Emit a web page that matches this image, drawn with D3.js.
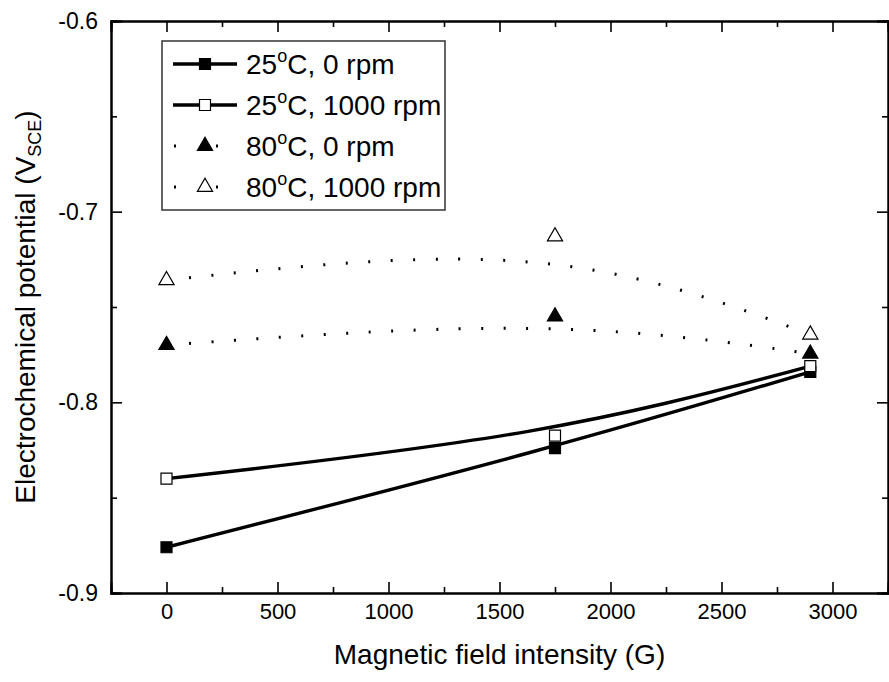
<!DOCTYPE html>
<html>
<head>
<meta charset="utf-8">
<script src="https://cdn.jsdelivr.net/npm/d3@7"></script>
<style>
  html, body { margin: 0; padding: 0; background: #fff; }
  svg { display: block; }
  text { font-family: "Liberation Sans", Arial, sans-serif; fill: #000; }
</style>
</head>
<body>
<svg id="chart" width="889" height="682"></svg>
<script>
// Magnetic field values (G) at which potentials were measured
const fieldG = [0, 1750, 2900];

// Electrochemical potential (V vs SCE) for each condition
const pot25rpm0 = [-0.876, -0.824, -0.784];
const pot25rpm1000 = [-0.840, -0.8175, -0.781];
const pot80rpm0 = [-0.770, -0.755, -0.7745];
const pot80rpm1000 = [-0.736, -0.713, -0.7645];

const seriesNames = ["25°C, 0 rpm", "25°C, 1000 rpm", "80°C, 0 rpm", "80°C, 1000 rpm"];

const xMajorTicks = [0, 500, 1000, 1500, 2000, 2500, 3000];
const xMinorTicks = [250, 750, 1250, 1750, 2250, 2750];
const yMajorTicks = [-0.9, -0.8, -0.7, -0.6];
const yMinorTicks = [-0.85, -0.75, -0.65];

const svg = d3.select("#chart");
const plot = { left: 111, right: 888, top: 21, bottom: 593 };

const x = d3.scaleLinear().domain([-250, 3250]).range([plot.left, plot.right]);
const y = d3.scaleLinear().domain([-0.9, -0.6]).range([plot.bottom, plot.top]);

// Smooth spline: cubic Bezier from first to last point, pulled toward the middle point
class PulledSpline {
  constructor(context, pull) { this._context = context; this._pull = pull; }
  areaStart() {}
  areaEnd() {}
  lineStart() { this._pts = []; }
  point(px, py) { this._pts.push([+px, +py]); }
  lineEnd() {
    const p = this._pts, c = this._context, w = this._pull;
    if (!p.length) return;
    c.moveTo(p[0][0], p[0][1]);
    if (p.length === 3) {
      const [a, m, b] = p;
      c.bezierCurveTo(a[0] + w * (m[0] - a[0]), a[1] + w * (m[1] - a[1]),
                      b[0] + w * (m[0] - b[0]), b[1] + w * (m[1] - b[1]),
                      b[0], b[1]);
    } else {
      for (let i = 1; i < p.length; i++) c.lineTo(p[i][0], p[i][1]);
    }
  }
}
const curvePulled = pull => context => new PulledSpline(context, pull);

const series = [
  { name: seriesNames[0], values: pot25rpm0, marker: "square", fill: "#000", dash: null },
  { name: seriesNames[1], values: pot25rpm1000, marker: "square", fill: "#fff", dash: null },
  { name: seriesNames[2], values: pot80rpm0, marker: "triangle", fill: "#000", dash: "2 20.5" },
  { name: seriesNames[3], values: pot80rpm1000, marker: "triangle", fill: "#fff", dash: "2 20.5" }
];

const symbolFor = s => d3.symbol()
  .type(s.marker === "square" ? d3.symbolSquare : d3.symbolTriangle)
  .size(s.marker === "square" ? 121 : 100)();

// Axes frame: ticks point inward
const gx = svg.append("g").attr("transform", `translate(0,${plot.bottom})`);
gx.call(d3.axisBottom(x).tickValues(xMajorTicks).tickSize(-11).tickPadding(10).tickFormat(d => String(d)));
const gxMinor = svg.append("g").attr("transform", `translate(0,${plot.bottom})`);
gxMinor.call(d3.axisBottom(x).tickValues(xMinorTicks).tickSize(-6).tickFormat(""));
const gxTop = svg.append("g").attr("transform", `translate(0,${plot.top})`);
gxTop.call(d3.axisTop(x).tickValues(xMajorTicks).tickSize(-11).tickFormat(""));
const gxTopMinor = svg.append("g").attr("transform", `translate(0,${plot.top})`);
gxTopMinor.call(d3.axisTop(x).tickValues(xMinorTicks).tickSize(-6).tickFormat(""));

const gy = svg.append("g").attr("transform", `translate(${plot.left},0)`);
gy.call(d3.axisLeft(y).tickValues(yMajorTicks).tickSize(-11).tickPadding(13).tickFormat(d => d.toFixed(1)));
const gyMinor = svg.append("g").attr("transform", `translate(${plot.left},0)`);
gyMinor.call(d3.axisLeft(y).tickValues(yMinorTicks).tickSize(-6).tickFormat(""));
const gyRight = svg.append("g").attr("transform", `translate(${plot.right},0)`);
gyRight.call(d3.axisRight(y).tickValues(yMajorTicks).tickSize(-11).tickFormat(""));
const gyRightMinor = svg.append("g").attr("transform", `translate(${plot.right},0)`);
gyRightMinor.call(d3.axisRight(y).tickValues(yMinorTicks).tickSize(-6).tickFormat(""));

svg.selectAll(".domain").attr("stroke", "#000").attr("stroke-width", 2);
svg.selectAll(".tick line").attr("stroke", "#000").attr("stroke-width", 1.6);
gx.selectAll(".tick text").style("font-size", "22px").attr("fill", "#000");
gy.selectAll(".tick text").style("font-size", "23px").attr("fill", "#000");

// Data curves
const line = d3.line()
  .x((d, i) => x(fieldG[i]))
  .y(d => y(d))
  .curve(curvePulled(0.85));

series.forEach(s => {
  svg.append("path")
    .attr("d", line(s.values))
    .attr("fill", "none")
    .attr("stroke", "#000")
    .attr("stroke-width", s.dash ? 3 : 3.4)
    .attr("stroke-dasharray", s.dash);
});

series.forEach(s => {
  svg.append("g").selectAll("path")
    .data(s.values)
    .join("path")
    .attr("transform", (d, i) => `translate(${x(fieldG[i])},${y(d)})`)
    .attr("d", symbolFor(s))
    .attr("fill", s.fill)
    .attr("stroke", "#000")
    .attr("stroke-width", 1.2);
});

// Legend
const legend = svg.append("g");
legend.append("rect")
  .attr("x", 162).attr("y", 41).attr("width", 283).attr("height", 169)
  .attr("fill", "#fff").attr("stroke", "#333").attr("stroke-width", 1.5);

series.forEach((s, i) => {
  const ly = 64 + i * 41;
  if (s.dash) {
    legend.append("line")
      .attr("x1", 174).attr("x2", 237).attr("y1", ly).attr("y2", ly)
      .attr("stroke", "#000").attr("stroke-width", 3).attr("stroke-dasharray", "2 40");
  } else {
    legend.append("line")
      .attr("x1", 173).attr("x2", 237).attr("y1", ly).attr("y2", ly)
      .attr("stroke", "#000").attr("stroke-width", 3.4);
  }
  legend.append("path")
    .attr("transform", `translate(205,${ly})`)
    .attr("d", symbolFor(s))
    .attr("fill", s.fill).attr("stroke", "#000").attr("stroke-width", 1.2);

  const [temp, rest] = s.name.split("°");
  const t = legend.append("text")
    .attr("x", 246).attr("y", ly + 10)
    .style("font-size", "28px");
  t.append("tspan").text(temp);
  t.append("tspan").attr("dy", -12).style("font-size", "18px").text("o");
  t.append("tspan").attr("dy", 12).text(rest);
});

// Axis titles
svg.append("text")
  .attr("x", (plot.left + plot.right) / 2).attr("y", 664)
  .attr("text-anchor", "middle")
  .style("font-size", "28px")
  .text("Magnetic field intensity (G)");

const yt = svg.append("text")
  .attr("transform", `translate(35,${(plot.top + plot.bottom) / 2}) rotate(-90)`)
  .attr("text-anchor", "middle")
  .style("font-size", "28px");
yt.append("tspan").text("Electrochemical potential (V");
yt.append("tspan").attr("dy", 6).style("font-size", "18px").text("SCE");
yt.append("tspan").attr("dy", -6).text(")");
</script>
</body>
</html>
